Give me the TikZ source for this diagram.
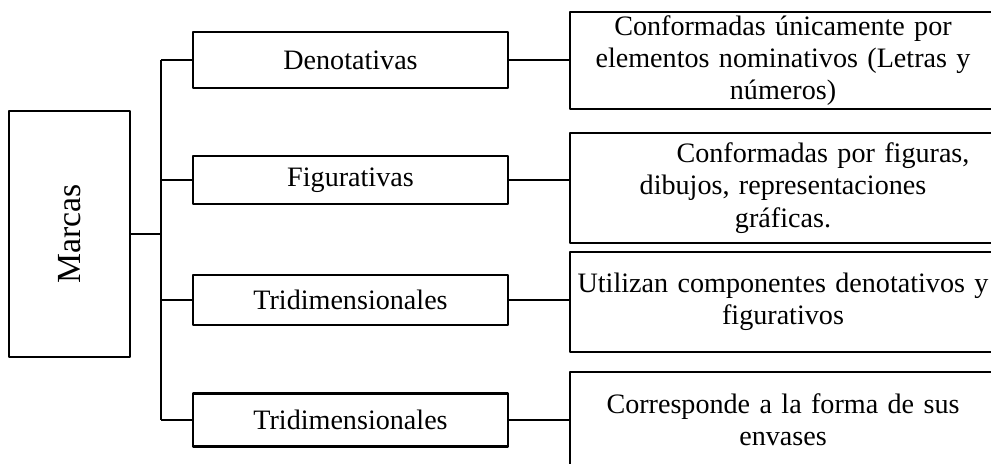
\documentclass[tikz,border=0pt]{standalone}
\usepackage{fontspec}
\setmainfont{Liberation Serif}
\begin{document}
\begin{tikzpicture}[x=.025cm, y=-.025cm, line width=1.6pt, line join=round,
    font=\fontsize{20}{23}\selectfont,
    caja/.style={draw, minimum width=7.875cm, inner sep=2pt},
    desc/.style={draw, minimum width=10.65cm, text width=10.3cm, align=center, inner sep=2pt}]
    \useasboundingbox (0,0) rectangle (991,464);
    \clip (0,0) rectangle (991,464);
    \node[draw, rotate=90, minimum width=6.15cm, minimum height=3.025cm,
        font=\fontsize{24}{28}\selectfont] (marcas) at (69.5,234){Marcas};
    \node[caja, minimum height=1.4cm] (den) at (350.5,60){Denotativas};
    \node[caja, minimum height=1.2cm] (fig) at (350.5,180){Figurativas};
    \node[caja, minimum height=1.25cm] (tri) at (350.5,300){Tridimensionales};
    \node[caja, minimum height=1.32cm] (env) at (350.5,420){Tridimensionales};
    \node[desc, minimum height=2.425cm] (rden) at (783,60.5){Conformadas únicamente por\\ elementos nominativos (Letras y\\ números)};
    \node[desc, minimum height=2.75cm] (rfig) at (783,188){\hspace*{2cm}Conformadas por figuras,\\ dibujos, representaciones\\ gráficas.};
    \node[desc, minimum height=2.5cm] (rtri) at (783,302){Utilizan componentes denotativos y\\ figurativos};
    \node[desc, minimum height=2.4cm] (renv) at (783,420){Corresponde a la forma de sus\\ envases};
    \coordinate (tronco) at (161,234);
    \draw (marcas.south) -- (tronco);
    \draw (tronco |- den.west) -- (tronco |- env.west);
    \foreach\n in {den,fig,tri,env}{
        \draw (tronco |- \n.west) -- (\n.west);
        \draw (\n.east) -- (\n.east -| r\n.west);}
\end{tikzpicture}
\end{document}
